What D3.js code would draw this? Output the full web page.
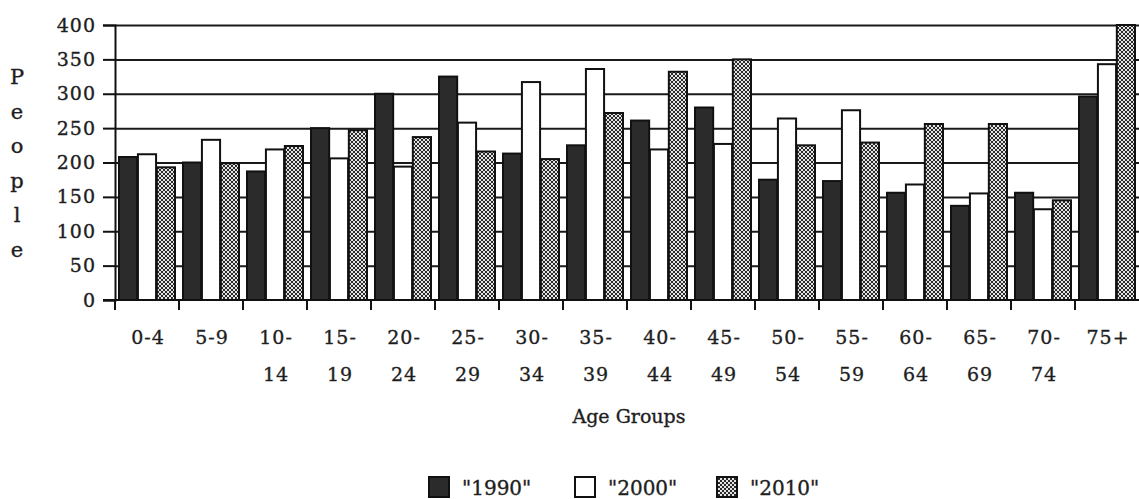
<!DOCTYPE html>
<html lang="en">
<head>
<meta charset="UTF-8">
<title>Age Groups</title>
<script src="https://d3js.org/d3.v7.min.js"></script>
<style>
    html, body { margin: 0; padding: 0; background: #fff; }
    svg { display: block; }
    text { font-family: "DejaVu Serif", "Liberation Serif", serif; fill: #1e1e1e; stroke: #1e1e1e; stroke-width: 0.35px; }
    .tick-label { font-size: 19px; letter-spacing: 1px; }
</style>
</head>
<body>
<div id="chart"></div>
<script>
// data
const categories = ["0-4", "5-9", "10-14", "15-19", "20-24", "25-29", "30-34", "35-39",
    "40-44", "45-49", "50-54", "55-59", "60-64", "65-69", "70-74", "75+"];
const tickLines = [["0-4"], ["5-9"], ["10-", "14"], ["15-", "19"], ["20-", "24"], ["25-", "29"],
    ["30-", "34"], ["35-", "39"], ["40-", "44"], ["45-", "49"], ["50-", "54"], ["55-", "59"],
    ["60-", "64"], ["65-", "69"], ["70-", "74"], ["75+"]];
const seriesNames = ["1990", "2000", "2010"];
const v1990 = [208, 200, 187, 250, 300, 325, 213, 225, 261, 280, 175, 173, 156, 137, 156, 296];
const v2000 = [212, 233, 219, 206, 194, 258, 317, 336, 219, 227, 264, 276, 168, 155, 132, 343];
const v2010 = [193, 199, 224, 247, 237, 216, 205, 272, 332, 350, 225, 229, 256, 256, 145, 400];
const yTicks = [0, 50, 100, 150, 200, 250, 300, 350, 400];
const yLetters = ["P", "e", "o", "p", "l", "e"];

const W = 1139, H = 499;
const margin = { top: 25, left: 115 };
const width = 1024, height = 275;

const svg = d3.select("#chart").append("svg")
    .attr("width", W).attr("height", H);

// checker pattern for 2010
const defs = svg.append("defs");
const pat = defs.append("pattern")
    .attr("id", "checker")
    .attr("width", 4).attr("height", 4)
    .attr("patternUnits", "userSpaceOnUse");
pat.append("rect").attr("width", 4).attr("height", 4).attr("fill", "#e4e4e4");
pat.append("rect").attr("width", 2).attr("height", 2).attr("fill", "#2a2a2a");
pat.append("rect").attr("x", 2).attr("y", 2).attr("width", 2).attr("height", 2).attr("fill", "#2a2a2a");

const fills = { "1990": "#2b2b2b", "2000": "#ffffff", "2010": "url(#checker)" };
const valuesBySeries = { "1990": v1990, "2000": v2000, "2010": v2010 };

const g = svg.append("g")
    .attr("transform", `translate(${margin.left},${margin.top})`);

const x0 = d3.scaleBand().domain(categories).range([0, width]).padding(0);
const x1 = d3.scaleBand().domain(seriesNames).range([4, 60]).paddingInner(0.04);
const y = d3.scaleLinear().domain([0, 400]).range([height, 0]);

// gridlines
g.append("g")
    .call(d3.axisLeft(y).tickValues(yTicks.slice(1)).tickSize(-width).tickFormat(""))
    .call(s => s.select(".domain").remove())
    .selectAll("line").attr("stroke", "#1a1a1a").attr("stroke-width", 2);

// bars
const rows = categories.map((c, i) => ({
    cat: c,
    vals: seriesNames.map(s => ({ s, v: valuesBySeries[s][i] }))
}));

g.selectAll(".grp")
    .data(rows)
    .join("g")
    .attr("class", "grp")
    .attr("transform", d => `translate(${x0(d.cat)},0)`)
    .selectAll("rect")
    .data(d => d.vals)
    .join("rect")
    .attr("x", d => x1(d.s))
    .attr("y", d => y(d.v))
    .attr("width", x1.bandwidth())
    .attr("height", d => height - y(d.v))
    .attr("fill", d => fills[d.s])
    .attr("stroke", "#111")
    .attr("stroke-width", 2);

// y axis
const yAxis = g.append("g")
    .call(d3.axisLeft(y).tickValues(yTicks).tickSize(12).tickPadding(7));
yAxis.select(".domain").attr("stroke", "#111").attr("stroke-width", 2);
yAxis.selectAll("line").attr("stroke", "#111").attr("stroke-width", 2);
yAxis.selectAll("text").attr("class", "tick-label").attr("fill", "#1e1e1e")
    .style("font-size", "19px");

// x axis
g.append("line")
    .attr("x1", -12).attr("x2", width)
    .attr("y1", height).attr("y2", height)
    .attr("stroke", "#111").attr("stroke-width", 2);

g.selectAll(".xtick")
    .data(categories)
    .join("line")
    .attr("class", "xtick")
    .attr("x1", d => x0(d)).attr("x2", d => x0(d))
    .attr("y1", height).attr("y2", height + 10)
    .attr("stroke", "#111").attr("stroke-width", 2);

const xLab = g.selectAll(".xlab")
    .data(categories)
    .join("text")
    .attr("class", "xlab tick-label")
    .attr("text-anchor", "middle")
    .attr("transform", d => `translate(${x0(d) + x0.bandwidth() / 2 + 1},${height + 44})`);
xLab.selectAll("tspan")
    .data((d, i) => tickLines[i])
    .join("tspan")
    .attr("x", 0)
    .attr("dy", (d, i) => i === 0 ? 0 : 37)
    .text(d => d);

// axis titles
svg.append("text")
    .attr("x", margin.left + width / 2 + 2)
    .attr("y", 423)
    .attr("text-anchor", "middle")
    .style("font-size", "19px")
    .text("Age Groups");

svg.selectAll(".ylet")
    .data(yLetters)
    .join("text")
    .attr("class", "ylet")
    .attr("x", 17)
    .attr("y", (d, i) => 84 + i * 34.6)
    .attr("text-anchor", "middle")
    .style("font-size", "21px")
    .text(d => d);

// legend
const legendX = [428, 574, 716];
const leg = svg.selectAll(".leg")
    .data(seriesNames)
    .join("g")
    .attr("class", "leg")
    .attr("transform", (d, i) => `translate(${legendX[i]},476)`);
leg.append("rect")
    .attr("x", 1).attr("y", 1)
    .attr("width", 20).attr("height", 20)
    .attr("fill", d => fills[d])
    .attr("stroke", "#111").attr("stroke-width", 2);
leg.append("text")
    .attr("x", 34).attr("y", 19)
    .style("font-size", "20px")
    .text(d => `"${d}"`);
</script>
</body>
</html>
